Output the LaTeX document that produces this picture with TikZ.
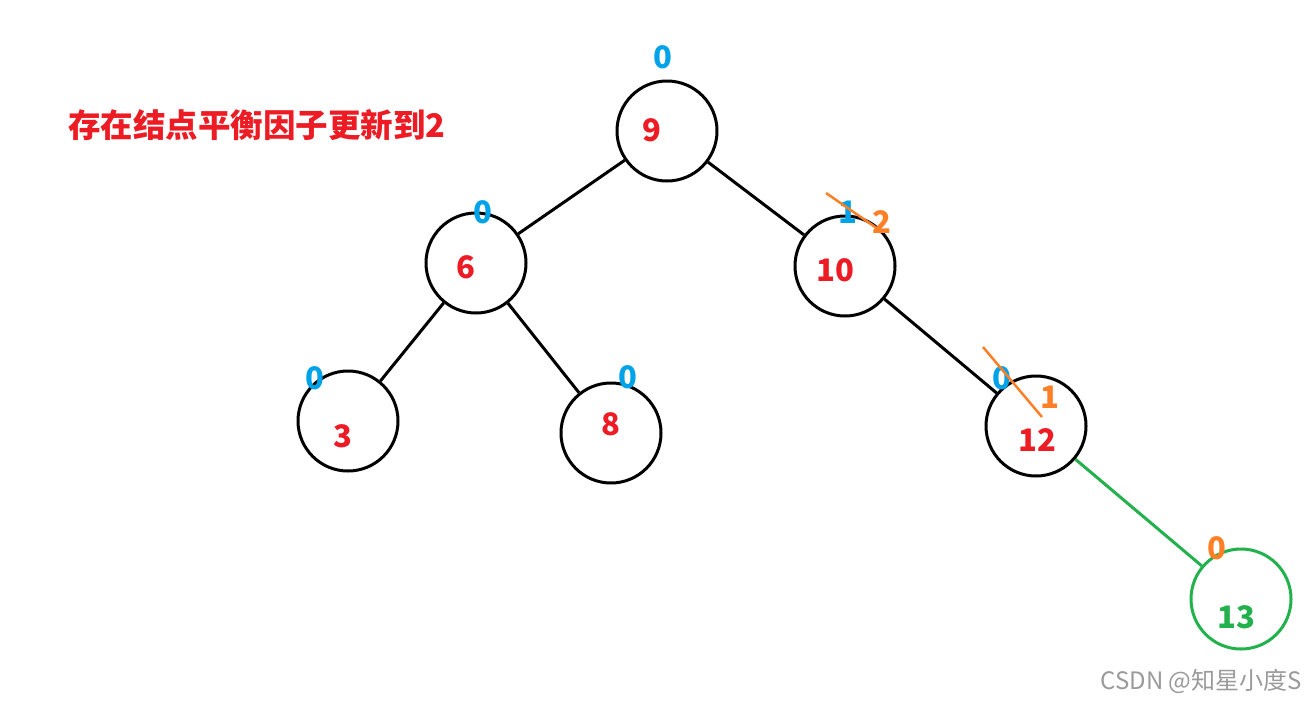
\documentclass[tikz,border=0pt]{standalone}
\usepackage{fontspec}
\usepackage{tikz}
\usetikzlibrary{calc}
\newfontfamily\cjk{Noto Sans CJK SC}
\definecolor{valred}{HTML}{ED1C24}
\definecolor{bfblue}{HTML}{00A2E8}
\definecolor{bforange}{HTML}{FF7F27}
\definecolor{newgreen}{HTML}{22B14C}
\definecolor{markgray}{HTML}{9A9A9A}

\begin{document}
\begin{tikzpicture}[
  x=1pt, y=-1pt,
  every node/.style={font=\cjk\bfseries\fontsize{31}{31}\selectfont, inner sep=0pt},
  treenode/.style={draw, circle, line width=3pt, minimum size=100pt},
  val/.style={text=valred},
  bf/.style={text=bfblue},
  bfnew/.style={text=bforange},
  edge/.style={line width=3pt},
  strike/.style={draw=bforange, line width=2.5pt},
]
  \useasboundingbox (0,0) rectangle (1306,702);

  % Title
  \node[text=valred, anchor=west, font=\cjk\bfseries\fontsize{32.5}{32.5}\selectfont] (title) at (68,125) {存在结点平衡因子更新到2};

  % Circles
  \node[treenode] (n9) at (667,131) {};
  \node[treenode] (n6) at (476,263) {};
  \node[treenode] (n10) at (845,266) {};
  \node[treenode] (n3) at (348,421) {};
  \node[treenode] (n8) at (611,433) {};
  \node[treenode] (n12) at (1036,426) {};
  \node[treenode, draw=newgreen] (n13) at (1241,599) {};

  % Keys
  \node[val] (k9) at (652,130) {9};
  \node[val] (k6) at (466,267) {6};
  \node[val] (k10) at (835,270) {10};
  \node[val] (k3) at (343,436) {3};
  \node[val] (k8) at (611,424) {8};
  \node[val] (k12) at (1037,440) {12};
  \node[text=newgreen] (k13) at (1236,617) {13};

  % Balance factors
  \node[bf] (b9) at (663,57) {0};
  \node[bf] (b6) at (483,212) {0};
  \node[bf] (b10) at (848,212) {1};
  \node[bfnew] (b10new) at (882,222) {2};
  \node[bf] (b3) at (315,378) {0};
  \node[bf] (b8) at (628,377) {0};
  \node[bf] (b12) at (1002,378) {0};
  \node[bfnew] (b12new) at (1050,397) {1};
  \node[bfnew] (b13) at (1217,548) {0};

  % Edges
  \draw[edge] (n9) -- (n6);
  \draw[edge] (n9) -- (n10);
  \draw[edge] (n6) -- (n3);
  \draw[edge] (n6) -- (n8);
  \draw[edge] (n10) -- (n12);
  \draw[edge, draw=newgreen] (n12) -- (n13);

  % Crossed-out factors
  \draw[strike] ($(b10)+(-22,-19)$) -- ($(b10)+(30,17)$);
  \draw[strike] ($(b12)+(-19,-31)$) -- ($(b12)+(40,39)$);

  % Watermark
  \node[font=\cjk\fontsize{24}{24}\selectfont, text=markgray, anchor=east] (mark) at (1302,681) {CSDN @知星小度S};
\end{tikzpicture}
\end{document}
